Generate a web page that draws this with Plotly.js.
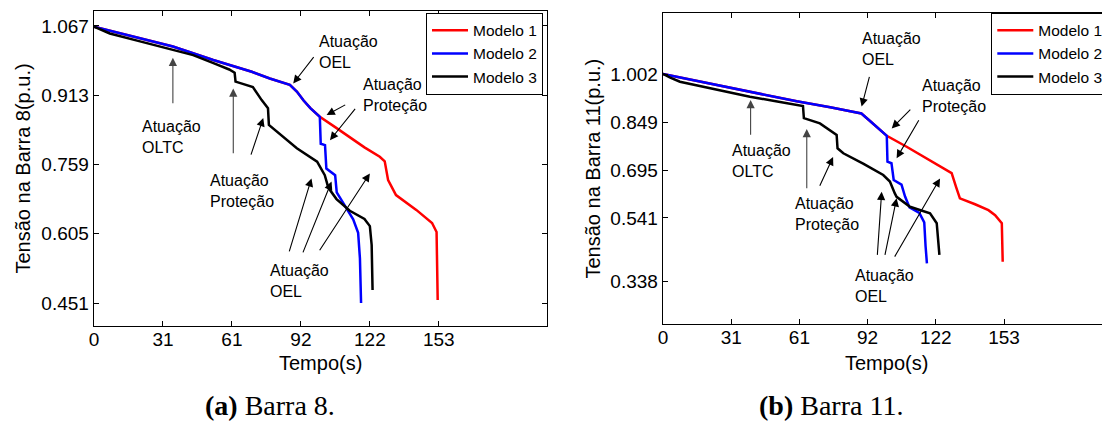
<!DOCTYPE html>
<html>
<head>
<meta charset="utf-8">
<script src="https://cdn.plot.ly/plotly-3.0.1.min.js"></script>
<style>
html,body{margin:0;padding:0;background:#fff;overflow:hidden;width:1102px;height:432px;}
#chart{width:1140px;height:432px;}
</style>
</head>
<body>
<div id="chart"></div>
<script>
// ---------------- DATA ----------------
const seriesNames = ['Modelo 1', 'Modelo 2', 'Modelo 3'];
const xTickVals = [0, 30.6, 61.2, 91.8, 122.4, 153];
const xTickText = ['0', '31', '61', '92', '122', '153'];
const yTickB8 = [0.451, 0.605, 0.759, 0.913, 1.067];
const yTickB11 = [0.338, 0.541, 0.695, 0.849, 1.002];

// Barra 8
const tM1_b8 = [0, 10, 20, 35, 52.9, 62, 70, 78, 84, 86.9, 90, 93, 96, 100.2, 107, 113.5, 120, 126.8, 129, 130.5, 134, 143, 150, 152, 152.3, 152.5];
const vM1_b8 = [1.065, 1.052, 1.039, 1.021, 0.991, 0.978, 0.965, 0.950, 0.941, 0.936, 0.921, 0.901, 0.884, 0.865, 0.842, 0.819, 0.797, 0.776, 0.766, 0.724, 0.691, 0.658, 0.629, 0.609, 0.55, 0.458];
const tM2_b8 = [0, 10, 20, 35, 52.9, 62, 70, 78, 84, 86.9, 90, 93, 96, 100.2, 100.6, 102.5, 103.1, 107, 107.7, 110.5, 115, 117.2, 118, 118.5];
const vM2_b8 = [1.065, 1.052, 1.039, 1.021, 0.991, 0.978, 0.965, 0.950, 0.941, 0.936, 0.921, 0.901, 0.884, 0.865, 0.805, 0.802, 0.750, 0.735, 0.697, 0.673, 0.637, 0.607, 0.55, 0.451];
const tM3_b8 = [0, 3, 7, 20, 35, 44, 53, 60, 62.4, 62.8, 66, 70.5, 74.4, 77.2, 77.6, 82.5, 90, 99, 102.4, 104, 107.6, 113.5, 120, 122.4, 123.2, 123.6];
const vM3_b8 = [1.065, 1.058, 1.050, 1.033, 1.013, 1.002, 0.984, 0.970, 0.963, 0.943, 0.938, 0.931, 0.902, 0.884, 0.847, 0.826, 0.795, 0.765, 0.735, 0.707, 0.682, 0.656, 0.638, 0.622, 0.58, 0.480];

// Barra 11
const tM1_b11 = [0, 10, 22, 39, 60, 75, 84, 89, 93, 96.5, 100.4, 109.3, 118, 127.3, 129.5, 131.5, 133.2, 140, 146, 149, 151.5, 152, 152.4];
const vM1_b11 = [1.004, 0.989, 0.972, 0.947, 0.916, 0.897, 0.885, 0.877, 0.852, 0.830, 0.805, 0.770, 0.733, 0.695, 0.685, 0.640, 0.604, 0.585, 0.566, 0.550, 0.530, 0.524, 0.400];
const tM2_b11 = [0, 10, 22, 39, 60, 75, 84, 89, 93, 96.5, 100.4, 100.7, 102.5, 103.5, 107, 108.6, 110.6, 115, 117.2, 117.8, 118.4];
const vM2_b11 = [1.004, 0.989, 0.972, 0.947, 0.916, 0.897, 0.885, 0.877, 0.852, 0.830, 0.805, 0.722, 0.717, 0.663, 0.648, 0.610, 0.575, 0.557, 0.527, 0.450, 0.395];
const tM3_b11 = [0, 3, 7.6, 20, 39, 50, 62.8, 63.2, 70.4, 77.9, 78.3, 80.9, 90, 98.8, 101.8, 104, 104.8, 110.8, 119.8, 122.8, 123.5, 124];
const vM3_b11 = [1.004, 0.993, 0.979, 0.960, 0.931, 0.917, 0.901, 0.862, 0.845, 0.808, 0.765, 0.749, 0.715, 0.679, 0.658, 0.620, 0.609, 0.577, 0.556, 0.524, 0.470, 0.422];

const yTitleB8 = 'Tensão na Barra 8(p.u.)';
const yTitleB11 = 'Tensão na Barra 11(p.u.)';
const xTitle = 'Tempo(s)';
const captionA = '<b>(a)</b> Barra 8.';
const captionB = '<b>(b)</b> Barra 11.';
const lblOLTC = 'Atuação<br>OLTC';
const lblOEL = 'Atuação<br>OEL';
const lblProt = 'Atuação<br>Proteção';

// ---------------- LAYOUT ----------------
const W = 1140, H = 432;
const colors = ['#ff0000', '#0000ff', '#000000'];
const SANS = 'Liberation Sans, Arial, sans-serif';

function mk(t, v, i, xa, ya, leg) {
  return {x: t, y: v, type: 'scatter', mode: 'lines', name: seriesNames[i],
    xaxis: xa, yaxis: ya, legend: leg,
    line: {color: colors[i], width: 2.5}};
}
const data = [
  mk(tM1_b8, vM1_b8, 0, 'x', 'y', 'legend'),
  mk(tM2_b8, vM2_b8, 1, 'x', 'y', 'legend'),
  mk(tM3_b8, vM3_b8, 2, 'x', 'y', 'legend'),
  mk(tM1_b11, vM1_b11, 0, 'x2', 'y2', 'legend2'),
  mk(tM2_b11, vM2_b11, 1, 'x2', 'y2', 'legend2'),
  mk(tM3_b11, vM3_b11, 2, 'x2', 'y2', 'legend2')
];

function axisBase() {
  return {showline: true, linecolor: '#000', linewidth: 1.3, mirror: 'ticks',
    ticks: 'inside', ticklen: 5, tickwidth: 1, tickcolor: '#000',
    showgrid: false, zeroline: false, fixedrange: true,
    tickfont: {family: SANS, size: 19, color: '#000'}};
}
const xa1 = Object.assign(axisBase(), {domain: [94 / W, 547 / W], range: [0, 201], anchor: 'y',
  tickmode: 'array', tickvals: xTickVals, ticktext: xTickText, ticklabelstandoff: -4});
const ya1 = Object.assign(axisBase(), {domain: [1 - 326 / H, 1 - 11 / H], range: [0.4, 1.1], anchor: 'x',
  tickmode: 'array', tickvals: yTickB8, ticktext: yTickB8.map(v => v.toFixed(3))});
const xa2 = Object.assign(axisBase(), {domain: [663 / W, 1108.8 / W], range: [0, 200], anchor: 'y2',
  tickmode: 'array', tickvals: xTickVals, ticktext: xTickText, ticklabelstandoff: -4});
const ya2 = Object.assign(axisBase(), {domain: [1 - 324 / H, 1 - 13 / H], range: [0.2, 1.2], anchor: 'x2',
  tickmode: 'array', tickvals: yTickB11, ticktext: yTickB11.map(v => v.toFixed(3))});

const ann = [];
function label(txt, xr, yr, x, y) {
  ann.push({text: txt, xref: xr, yref: yr, x: x, y: y, xanchor: 'left', yanchor: 'middle',
    align: 'left', showarrow: false, font: {family: SANS, size: 16, color: '#000'}});
}
function arrow(xr, yr, hx, hy, tx, ty, col) {
  ann.push({text: ' ', xref: xr, yref: yr, x: hx, y: hy, axref: xr, ayref: yr, ax: tx, ay: ty,
    showarrow: true, arrowhead: 2, arrowsize: 1.5, arrowwidth: 1.1, arrowcolor: col || '#000',
    standoff: 0, startstandoff: 0});
}
function paperText(txt, px, py, size, fam, angle) {
  ann.push({text: txt, xref: 'paper', yref: 'paper', x: px / W, y: 1 - py / H,
    xanchor: 'center', yanchor: 'middle', showarrow: false, textangle: angle || 0,
    font: {family: fam, size: size, color: '#000'}});
}

// Barra 8 annotations
label(lblOLTC, 'x', 'y', 20.4, 0.82);
arrow('x', 'y', 35, 0.996, 35, 0.876, '#444');
label(lblProt, 'x', 'y', 50.6, 0.70);
arrow('x', 'y', 61.8, 0.928, 61.8, 0.765, '#444');
arrow('x', 'y', 75.1, 0.862, 68.4, 0.762);
label(lblOEL, 'x', 'y', 98.9, 1.009);
arrow('x', 'y', 88.4, 0.939, 98.8, 1.006);
label(lblProt, 'x', 'y', 118.3, 0.913);
arrow('x', 'y', 103.2, 0.869, 112.8, 0.895);
arrow('x', 'y', 104.7, 0.813, 117.2, 0.891);
label(lblOEL, 'x', 'y', 77.2, 0.50);
arrow('x', 'y', 96.5, 0.728, 85.5, 0.547);
arrow('x', 'y', 105.4, 0.721, 91.4, 0.547);
arrow('x', 'y', 122.4, 0.739, 98.8, 0.558);

// Barra 11 annotations
label(lblOLTC, 'x2', 'y2', 30.1, 0.724);
arrow('x2', 'y2', 39.3, 0.920, 39.3, 0.781, '#444');
label(lblProt, 'x2', 'y2', 58.3, 0.554);
arrow('x2', 'y2', 64.5, 0.827, 64.5, 0.609, '#444');
arrow('x2', 'y2', 76.3, 0.737, 69, 0.624);
label(lblOEL, 'x2', 'y2', 88.4, 1.084);
arrow('x2', 'y2', 89.1, 0.899, 93.6, 1.022);
label(lblProt, 'x2', 'y2', 115.3, 0.933);
arrow('x2', 'y2', 102.6, 0.829, 112.3, 0.899);
arrow('x2', 'y2', 104.8, 0.733, 116.1, 0.872);
label(lblOEL, 'x2', 'y2', 85.1, 0.322);
arrow('x2', 'y2', 98.1, 0.625, 95.9, 0.395);
arrow('x2', 'y2', 104.8, 0.604, 98.8, 0.395);
arrow('x2', 'y2', 124.3, 0.668, 102.6, 0.40);

// Axis titles and captions
paperText(yTitleB8, 22, 168.5, 20, SANS, -90);
paperText(yTitleB11, 592, 168.5, 20, SANS, -90);
paperText(xTitle, 320.5, 363, 20, SANS, 0);
paperText(xTitle, 886, 363, 20, SANS, 0);
paperText(captionA, 270, 405, 28, 'Liberation Serif, Times New Roman, serif', 0);
paperText(captionB, 831, 405, 28, 'Liberation Serif, Times New Roman, serif', 0);

function legendCfg(px) {
  return {x: px / W, y: 1 - 12.7 / H, xanchor: 'left', yanchor: 'top',
    bgcolor: '#fff', bordercolor: '#000', borderwidth: 1, itemwidth: 36,
    tracegroupgap: 0, font: {family: SANS, size: 15.5, color: '#000'}};
}

const layout = {
  width: W, height: H, autosize: false,
  margin: {l: 0, r: 0, t: 0, b: 0},
  paper_bgcolor: '#fff', plot_bgcolor: '#fff',
  font: {family: SANS, color: '#000'},
  showlegend: true,
  legend: legendCfg(426),
  legend2: legendCfg(991.3),
  xaxis: xa1, yaxis: ya1, xaxis2: xa2, yaxis2: ya2,
  annotations: ann
};

Plotly.newPlot('chart', data, layout, {staticPlot: true, displayModeBar: false});
</script>
</body>
</html>
